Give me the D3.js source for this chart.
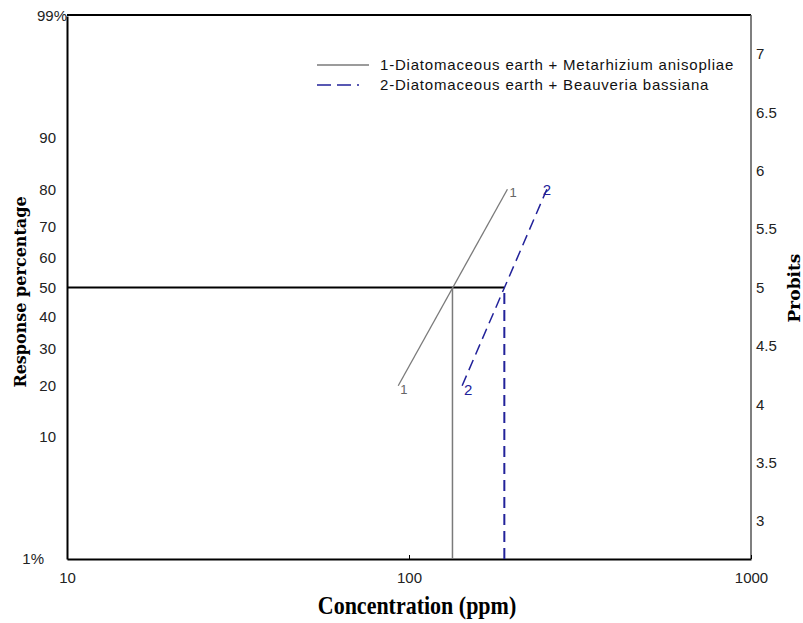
<!DOCTYPE html>
<html>
<head>
<meta charset="utf-8">
<script src="https://cdn.jsdelivr.net/npm/d3@7"></script>
<style>
  html, body { margin: 0; padding: 0; background: #fff; }
  svg { display: block; }
</style>
</head>
<body>
<svg id="chart" width="803" height="623"></svg>
<script>
// ---- data ----
const xTicks = [10, 100, 1000];
const pctTicks = [1, 10, 20, 30, 40, 50, 60, 70, 80, 90, 99];
const probitTicks = [3, 3.5, 4, 4.5, 5, 5.5, 6, 6.5, 7];
const series1Conc = [93, 194];
const series1Pct = [20, 80];
const series2Conc = [143, 253];
const series2Pct = [20, 80];
const lc50Conc = [134, 190];
const seriesLabels = ["1", "2"];
const legendLabels = [
  "1-Diatomaceous earth + Metarhizium anisopliae",
  "2-Diatomaceous earth + Beauveria bassiana"
];

// inverse normal CDF (Acklam)
function normInv(p) {
  const a = [-3.969683028665376e+01, 2.209460984245205e+02, -2.759285104469687e+02, 1.383577518672690e+02, -3.066479806614716e+01, 2.506628277459239e+00];
  const b = [-5.447609879822406e+01, 1.615858368580409e+02, -1.556989798598866e+02, 6.680131188771972e+01, -1.328068155288572e+01];
  const c = [-7.784894002430293e-03, -3.223964580411365e-01, -2.400758277161838e+00, -2.549732539343734e+00, 4.374664141464968e+00, 2.938163982698783e+00];
  const d = [7.784695709041462e-03, 3.224671290700398e-01, 2.445134137142996e+00, 3.754408661907416e+00];
  const pl = 0.02425, ph = 1 - pl;
  let q, r;
  if (p < pl) {
    q = Math.sqrt(-2 * Math.log(p));
    return (((((c[0]*q+c[1])*q+c[2])*q+c[3])*q+c[4])*q+c[5]) / ((((d[0]*q+d[1])*q+d[2])*q+d[3])*q+1);
  } else if (p <= ph) {
    q = p - 0.5; r = q*q;
    return (((((a[0]*r+a[1])*r+a[2])*r+a[3])*r+a[4])*r+a[5])*q / (((((b[0]*r+b[1])*r+b[2])*r+b[3])*r+b[4])*r+1);
  } else {
    q = Math.sqrt(-2 * Math.log(1 - p));
    return -(((((c[0]*q+c[1])*q+c[2])*q+c[3])*q+c[4])*q+c[5]) / ((((d[0]*q+d[1])*q+d[2])*q+d[3])*q+1);
  }
}
const probit = pct => 5 + normInv(pct / 100);

// ---- layout ----
const L = 67, R = 751, T = 16, B = 559;
const svg = d3.select("#chart");
const x = d3.scaleLog().domain([10, 1000]).range([L, R]);
const y = d3.scaleLinear().domain([probit(1), probit(99)]).range([B, T]);
const yp = pct => y(probit(pct));

const navy = "#22229a";
const grey = "#7a7a7a";
const font = "'Liberation Sans', Arial, sans-serif";
const serif = "'Liberation Serif', 'Times New Roman', serif";
const slab = "'DejaVu Serif', serif";

// frame
svg.append("line").attr("x1", L).attr("x2", R).attr("y1", T - 1).attr("y2", T - 1)
  .attr("stroke", "#000").attr("stroke-width", 2);
svg.append("line").attr("x1", R).attr("x2", R).attr("y1", T - 1).attr("y2", B)
  .attr("stroke", "#555").attr("stroke-width", 1.5);

function styleTicks(sel) {
  sel.selectAll("text").style("font-family", font).style("font-size", "15px").attr("fill", "#222");
}

// x axis
const xAxis = svg.append("g").attr("transform", `translate(0,${B})`)
  .call(d3.axisBottom(x).tickValues(xTicks).tickFormat(d3.format("d"))
    .tickSizeInner(-4).tickSizeOuter(0).tickPadding(13));
xAxis.select(".domain").attr("stroke", "#000").attr("stroke-width", 2);
xAxis.selectAll(".tick line").attr("stroke", "#000");
styleTicks(xAxis);

// left axis
const yAxis = svg.append("g").attr("transform", `translate(${L},0)`)
  .call(d3.axisLeft(y).tickValues(pctTicks.map(probit))
    .tickFormat((d, i) => {
      const p = pctTicks[i];
      return (p === 1 || p === 99) ? p + "%" : String(p);
    })
    .tickSize(0).tickPadding(11));
yAxis.select(".domain").attr("stroke", "#000").attr("stroke-width", 2);
styleTicks(yAxis);
yAxis.selectAll("text")
  .attr("x", (d, i) => pctTicks[i] === 99 ? 0 : (pctTicks[i] === 1 ? -23 : -11));

// right axis
const rAxis = svg.append("g").attr("transform", `translate(${R},0)`)
  .call(d3.axisRight(y).tickValues(probitTicks).tickFormat(d3.format("~g"))
    .tickSize(0).tickPadding(5));
rAxis.select(".domain").remove();
styleTicks(rAxis);

// axis titles
svg.append("text").attr("transform", `translate(417,614) scale(1,1.15)`)
  .attr("text-anchor", "middle").style("font-family", serif).attr("font-weight", "bold")
  .style("font-size", "22px").attr("fill", "#000").text("Concentration (ppm)");
svg.append("text").attr("transform", `translate(26,${292}) rotate(-90)`)
  .attr("text-anchor", "middle").style("font-family", slab).attr("font-weight", "bold")
  .style("font-size", "16px").attr("fill", "#000").text("Response percentage");
svg.append("text").attr("transform", `translate(800,${288}) rotate(-90)`)
  .attr("text-anchor", "middle").style("font-family", slab).attr("font-weight", "bold")
  .style("font-size", "17px").attr("fill", "#000").text("Probits");

// LC50 reference lines
svg.append("line").attr("x1", L).attr("x2", x(lc50Conc[1])).attr("y1", yp(50)).attr("y2", yp(50))
  .attr("stroke", "#000").attr("stroke-width", 2);
svg.append("line").attr("x1", x(lc50Conc[0])).attr("x2", x(lc50Conc[0])).attr("y1", yp(50)).attr("y2", B)
  .attr("stroke", grey).attr("stroke-width", 1.5);
svg.append("line").attr("x1", x(lc50Conc[1])).attr("x2", x(lc50Conc[1])).attr("y1", B).attr("y2", yp(50))
  .attr("stroke", navy).attr("stroke-width", 2).attr("stroke-dasharray", "11,6");

// series lines
const line = d3.line().x(d => x(d[0])).y(d => yp(d[1]));
const s1 = series1Conc.map((c, i) => [c, series1Pct[i]]);
const s2 = series2Conc.map((c, i) => [c, series2Pct[i]]);
svg.append("path").attr("d", line(s1)).attr("fill", "none").attr("stroke", grey).attr("stroke-width", 1.3);
svg.append("path").attr("d", line(s2)).attr("fill", "none").attr("stroke", navy).attr("stroke-width", 1.5)
  .attr("stroke-dasharray", "11,6");

// end labels
s1.forEach(d => {
  svg.append("text").attr("x", x(d[0]) + 2).attr("y", yp(d[1]) + 8)
    .style("font-family", font).style("font-size", "13px").attr("fill", "#666").text(seriesLabels[0]);
});
s2.forEach((d, i) => {
  svg.append("text").attr("x", x(d[0]) + (i === 0 ? 2 : -4)).attr("y", yp(d[1]) + (i === 0 ? 9 : 6))
    .style("font-family", font).style("font-size", "15px").attr("fill", navy).text(seriesLabels[1]);
});

// legend
const lg = svg.append("g").attr("transform", "translate(317,65)");
lg.append("line").attr("x1", 0).attr("x2", 52).attr("y1", 0).attr("y2", 0)
  .attr("stroke", grey).attr("stroke-width", 1.3);
lg.append("text").attr("x", 63).attr("y", 5).style("font-family", font).style("font-size", "15px")
  .style("letter-spacing", "0.8px").attr("fill", "#111").text(legendLabels[0]);
lg.append("line").attr("x1", 0).attr("x2", 54).attr("y1", 20).attr("y2", 20)
  .attr("stroke", navy).attr("stroke-width", 1.5).attr("stroke-dasharray", "14,6,14,6,2,30");
lg.append("text").attr("x", 63).attr("y", 25).style("font-family", font).style("font-size", "15px")
  .style("letter-spacing", "0.8px").attr("fill", "#111").text(legendLabels[1]);
</script>
</body>
</html>
